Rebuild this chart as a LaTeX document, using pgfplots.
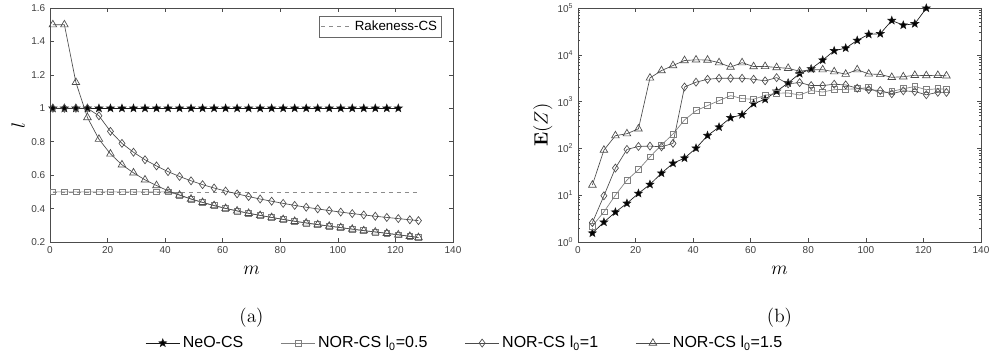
\documentclass[border=0pt]{standalone}
\usepackage[no-math]{fontspec}
\setmainfont{Liberation Sans}
\usepackage{pgfplots}
\usepackage{pgfplotstable}
\pgfplotsset{compat=1.18}
\usetikzlibrary{plotmarks}

% filled five-pointed star marker
\pgfdeclareplotmark{fstar}{%
  \pgfpathmoveto{\pgfpointpolar{90}{\pgfplotmarksize}}%
  \pgfpathlineto{\pgfpointpolar{126}{0.42\pgfplotmarksize}}%
  \pgfpathlineto{\pgfpointpolar{162}{\pgfplotmarksize}}%
  \pgfpathlineto{\pgfpointpolar{198}{0.42\pgfplotmarksize}}%
  \pgfpathlineto{\pgfpointpolar{234}{\pgfplotmarksize}}%
  \pgfpathlineto{\pgfpointpolar{270}{0.42\pgfplotmarksize}}%
  \pgfpathlineto{\pgfpointpolar{306}{\pgfplotmarksize}}%
  \pgfpathlineto{\pgfpointpolar{342}{0.42\pgfplotmarksize}}%
  \pgfpathlineto{\pgfpointpolar{18}{\pgfplotmarksize}}%
  \pgfpathlineto{\pgfpointpolar{54}{0.42\pgfplotmarksize}}%
  \pgfpathclose
  \pgfusepathqfillstroke}

\definecolor{axgray}{gray}{0.3}

% (a) sensing level l versus m
\pgfplotstableread{
m   neo sq    dia   tri
1   1   0.5   1     1.5
5   1   0.5   1     1.5
9   1   0.5   1     1.155
13  1   0.5   1     0.945
17  1   0.5   0.955 0.815
21  1   0.5   0.862 0.727
25  1   0.5   0.790 0.662
29  1   0.5   0.737 0.614
33  1   0.5   0.692 0.572
37  1   0.5   0.655 0.538
41  1   0.5   0.621 0.506
45  1   0.481 0.592 0.481
49  1   0.457 0.566 0.457
53  1   0.437 0.543 0.437
57  1   0.418 0.523 0.418
61  1   0.401 0.505 0.401
65  1   0.386 0.488 0.386
69  1   0.372 0.472 0.372
73  1   0.359 0.457 0.359
77  1   0.347 0.444 0.347
81  1   0.335 0.431 0.335
85  1   0.324 0.419 0.324
89  1   0.314 0.408 0.314
93  1   0.304 0.398 0.304
97  1   0.295 0.388 0.295
101 1   0.286 0.379 0.286
105 1   0.277 0.370 0.277
109 1   0.268 0.362 0.268
113 1   0.260 0.354 0.260
117 1   0.252 0.347 0.252
121 1   0.243 0.340 0.243
125 nan 0.234 0.333 0.234
128 nan 0.227 0.328 0.227
}\levels

% (b) expected value E(Z) versus m
\pgfplotstableread{
m   neo    sq   dia  tri
5   1.55   2.2  2.6  16.5
9   2.65   4.4  9.7  92
13  4.35   10   38   187
17  6.7    21   95   206
21  10.9   35   110  262
25  17     66   112  3200
29  29.5   118  108  4600
33  48     203  128  5900
37  62     405  2050 7550
41  101    640  2600 7800
45  188    820  3000 7750
49  285    1050 3150 6800
53  452    1340 3150 5450
57  524    1160 3150 6800
61  905    1120 3000 5600
65  1120   1360 2780 5650
69  1660   1510 3250 5350
73  2500   1530 2400 5150
77  3970   1380 2550 4450
81  5000   1720 2200 4800
85  7700   1600 2200 4800
89  12200  1800 2350 4350
93  13900  1830 2270 3850
97  20300  1880 1930 4800
101 27300  2000 1800 3900
105 28200  1480 1720 3800
109 54000  1650 1470 3300
113 43000  1880 1700 3400
117 46000  2100 1640 3650
121 99000  1800 1400 3600
125 nan    1880 1580 3650
128 nan    1840 1570 3550
}\expect

\pgfplotsset{
  panel/.style={
    scale only axis, width=302.25pt, height=175.5pt,
    xmin=0, xmax=140, xtick={0,20,...,140},
    axis line style={draw=axgray, line width=0.4pt},
    tick style={draw=axgray, line width=0.4pt},
    major tick length=3pt, minor tick length=1.6pt,
    tick align=inside,
    ticklabel style={font=\fontsize{7.5}{9}\selectfont, text=black!75},
    /pgf/number format/assume math mode=true,
    label style={font=\fontsize{14}{16}\selectfont},
    xlabel={$m$},
    xlabel style={at={(axis description cs:0.5,-0.12)}, anchor=center},
  },
  neo/.style={black!90, line width=0.5pt, mark=fstar, mark size=3pt,
    mark options={solid, fill=black}},
  sqs/.style={black!50, line width=0.5pt, mark=square, mark size=2.2pt,
    mark options={solid}},
  dia/.style={black!70, line width=0.5pt, mark=diamond, mark size=3pt,
    mark options={solid}},
  tri/.style={black!70, line width=0.5pt, mark=triangle, mark size=3.3pt,
    mark options={solid}},
}

\begin{document}
\begin{tikzpicture}[x=1pt,y=1pt]
\useasboundingbox (0,0) rectangle (741.75,272.25);

\begin{axis}[panel, name=A,
    at={(37.5pt,90.75pt)}, anchor=south west,
    ymin=0.2, ymax=1.6, ytick={0.2,0.4,0.6,0.8,1,1.2,1.4,1.6},
    ylabel={$l$},
    ylabel style={at={(axis description cs:-0.079,0.5)}, anchor=center},
    legend image code/.code={\draw[#1] (0cm,0cm) -- (0.8cm,0cm);},
    legend style={at={(axis description cs:1,1)}, anchor=north east,
      xshift=-8.25pt, yshift=-6pt, draw=black!60, line width=0.4pt,
      font=\fontsize{10}{12}\selectfont, inner sep=1.5pt},
  ]
  \addplot[black!45, dashed, line width=0.5pt] coordinates {(1,0.5) (128,0.5)};
  \addlegendentry{Rakeness-CS}
  \addplot[neo] table[x=m, y=neo] {\levels};
  \addplot[sqs] table[x=m, y=sq] {\levels};
  \addplot[dia] table[x=m, y=dia] {\levels};
  \addplot[tri] table[x=m, y=tri] {\levels};
\end{axis}

\begin{axis}[panel, name=B,
    at={(433.5pt,90.75pt)}, anchor=south west,
    ymode=log, ymin=1, ymax=100000,
    ytick={1,10,100,1000,10000,100000},
    yticklabels={10\textsuperscript{0},10\textsuperscript{1},10\textsuperscript{2},
      10\textsuperscript{3},10\textsuperscript{4},10\textsuperscript{5}},
    ylabel={$\mathbf{E}(Z)$},
    ylabel style={at={(axis description cs:-0.087,0.5)}, anchor=center},
    legend image code/.code={\draw[mark repeat=2,mark phase=2,#1]
      plot coordinates {(0cm,0cm) (0.45cm,0cm) (0.9cm,0cm)};},
    legend style={at={(axis description cs:-0.28,-0.432)}, anchor=center,
      draw=none, fill=none, legend columns=4,
      font=\fontsize{12}{14}\selectfont,
      /tikz/every even column/.append style={column sep=26pt}},
    legend cell align=left,
  ]
  \addplot[neo] table[x=m, y=neo] {\expect};
  \addlegendentry{NeO-CS}
  \addplot[sqs] table[x=m, y=sq] {\expect};
  \addlegendentry{NOR-CS l\textsubscript{0}=0.5}
  \addplot[dia] table[x=m, y=dia] {\expect};
  \addlegendentry{NOR-CS l\textsubscript{0}=1}
  \addplot[tri] table[x=m, y=tri] {\expect};
  \addlegendentry{NOR-CS l\textsubscript{0}=1.5}
\end{axis}

% sub-figure captions
\node[font=\fontsize{14}{16}\selectfont] at ([yshift=-57pt]A.south) {$(\mathrm{a})$};
\node[font=\fontsize{14}{16}\selectfont] at ([yshift=-57pt]B.south) {$(\mathrm{b})$};
\end{tikzpicture}
\end{document}
